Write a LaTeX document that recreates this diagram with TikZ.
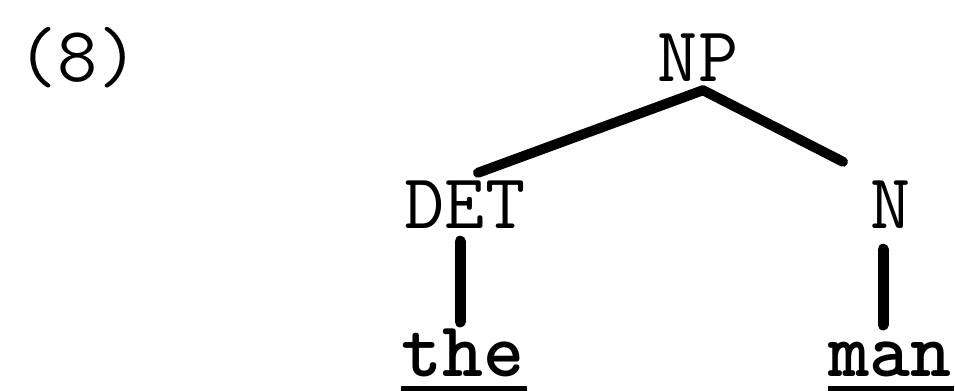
\documentclass[tikz,border=0pt]{standalone}
\usepackage{fontspec}
\usetikzlibrary{calc}
\begin{document}
\begin{tikzpicture}[x=0.5pt,y=-0.5pt,
  lab/.style={font=\ttfamily\fontsize{39}{39}\selectfont, inner sep=0pt},
  word/.style={font=\ttfamily\bfseries\fontsize{39}{39}\selectfont, inner sep=0pt, anchor=base},
  branch/.style={line width=5pt, line cap=round},
  stem/.style={line width=5.5pt, line cap=round},
  uline/.style={line width=3.5pt}]
\useasboundingbox (0,0) rectangle (955,391);
\node[lab] (ex) at (78,58) {(8)};
\node[lab] (NP) at (698,58) {NP};
\node[lab] (DET) at (465,205) {DET};
\node[lab] (N) at (891,205) {N};
\node[word] (the) at (463,376) {the};
\node[word] (man) at (890,376) {man};
\coordinate (top) at ($(NP.south)+(5,8)$);
\draw[branch] (top) -- ($(DET.north)+(13,-8)$);
\draw[branch] (top) -- ($(N.north)+(-48,-19)$);
\draw[stem] ($(DET.south)+(-5,12)$) -- ($(the.north)+(-3,-6)$);
\draw[stem] ($(N.south)+(-8,20)$) -- ($(man.north)+(-7,-16)$);
\draw[uline] ($(the.base west)+(0,13)$) -- ($(the.base east)+(2,13)$);
\draw[uline] ($(man.base west)+(0,13)$) -- ($(man.base east)+(2,13)$);
\end{tikzpicture}
\end{document}
